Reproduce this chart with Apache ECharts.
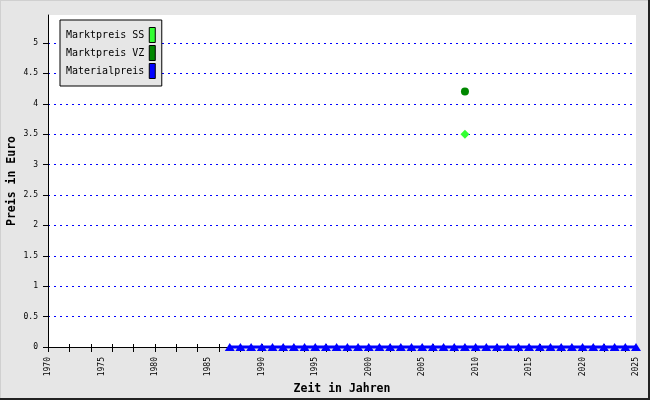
<!DOCTYPE html>
<html>
<head>
<meta charset="utf-8">
<script src="https://cdn.jsdelivr.net/npm/echarts@6/dist/echarts.min.js"></script>
<style>html,body{margin:0;padding:0;background:#e6e6e6;}#c{width:650px;height:400px;}</style>
</head>
<body>
<div id="c"></div>
<script>
var years = ['1970','1971','1972','1973','1974','1975','1976','1977','1978','1979',
  '1980','1981','1982','1983','1984','1985','1986','1987','1988','1989',
  '1990','1991','1992','1993','1994','1995','1996','1997','1998','1999',
  '2000','2001','2002','2003','2004','2005','2006','2007','2008','2009',
  '2010','2011','2012','2013','2014','2015','2016','2017','2018','2019',
  '2020','2021','2022','2023','2024','2025'];
var marktpreisSS = [['2009', 3.5]];
var marktpreisVZ = [['2009', 4.2]];
var materialpreis = [null,null,null,null,null,null,null,null,null,null,
  null,null,null,null,null,null,null,0,0,0,
  0,0,0,0,0,0,0,0,0,0,
  0,0,0,0,0,0,0,0,0,0,
  0,0,0,0,0,0,0,0,0,0,
  0,0,0,0,0,0];
var yTicks = [0,0.5,1,1.5,2,2.5,3,3.5,4,4.5,5];
var seriesNames = ['Marktpreis SS','Marktpreis VZ','Materialpreis'];

var chart = echarts.init(document.getElementById('c'), null, {renderer:'canvas'});
var mono = 'DejaVu Sans Mono';
chart.setOption({
  backgroundColor: '#e6e6e6',
  animation: false,
  grid: {left:48, right:14, top:15, bottom:53, show:true, backgroundColor:'#ffffff', borderWidth:0,
         containLabel:false, outerBoundsMode:'none'},
  legend: {
    orient:'vertical', left:60, top:20, align:'right',
    backgroundColor:'#e6e6e6', borderColor:'#000', borderWidth:1,
    padding:[7,6,7,6], itemGap:2, itemWidth:6, itemHeight:15, icon:'rect',
    itemStyle:{borderColor:'#000', borderWidth:1},
    textStyle:{fontFamily:mono, fontSize:10, color:'#000'},
    data: seriesNames
  },
  xAxis: [{
    type:'category', data:years, boundaryGap:false,
    name:'Zeit in Jahren', nameLocation:'middle', nameGap:36, nameMoveOverlap:false,
    nameTextStyle:{fontFamily:mono, fontSize:11.5, fontWeight:'bold', color:'#000'},
    axisLine:{lineStyle:{color:'#000', width:1}},
    axisTick:{interval:1, length:5, lineStyle:{color:'#000'}},
    axisLabel:{interval:4, rotate:90, margin:10, fontFamily:mono, fontSize:8, color:'#000'},
    splitLine:{show:false}
  },{
    type:'category', data:years, boundaryGap:false, position:'bottom',
    axisLine:{show:false},
    axisTick:{interval:1, length:3, inside:true, lineStyle:{color:'#000'}},
    axisLabel:{show:false}, splitLine:{show:false}
  }],
  yAxis: {
    type:'value', min:0, max:5.46, interval:0.5,
    name:'Preis in Euro', nameLocation:'middle', nameGap:30, nameMoveOverlap:false,
    nameTextStyle:{fontFamily:mono, fontSize:11.5, fontWeight:'bold', color:'#000'},
    axisLine:{show:true, lineStyle:{color:'#000', width:1}},
    axisTick:{show:true, length:5, lineStyle:{color:'#000'}, customValues:yTicks},
    axisLabel:{margin:10, fontFamily:mono, fontSize:8, color:'#000', customValues:yTicks},
    splitLine:{show:true, showMaxLine:true, showMinLine:false, lineStyle:{color:'#0000ff', type:[2,4], width:1}}
  },
  series: [{
    name:'Marktpreis SS', type:'scatter', data:marktpreisSS,
    symbol:'diamond', symbolSize:9, itemStyle:{color:'#33ff33', opacity:1}, z:5
  },{
    name:'Marktpreis VZ', type:'scatter', data:marktpreisVZ,
    symbol:'circle', symbolSize:8, itemStyle:{color:'#008800', opacity:1}, z:5
  },{
    name:'Materialpreis', type:'line', data:materialpreis,
    symbol:'triangle', symbolSize:[10,8], showSymbol:true, showAllSymbol:true, clip:false,
    lineStyle:{color:'#0000ff', width:3}, itemStyle:{color:'#0000ff', opacity:1}, z:4
  }],
  graphic: [
    {type:'rect', shape:{x:0, y:0, width:650, height:1}, style:{fill:'#d0d0d0'}, silent:true},
    {type:'rect', shape:{x:0, y:0, width:1, height:400}, style:{fill:'#d0d0d0'}, silent:true},
    {type:'rect', shape:{x:648, y:0, width:2, height:400}, style:{fill:'#222'}, silent:true},
    {type:'rect', shape:{x:0, y:398, width:650, height:2}, style:{fill:'#222'}, silent:true}
  ]
});
</script>
</body>
</html>
